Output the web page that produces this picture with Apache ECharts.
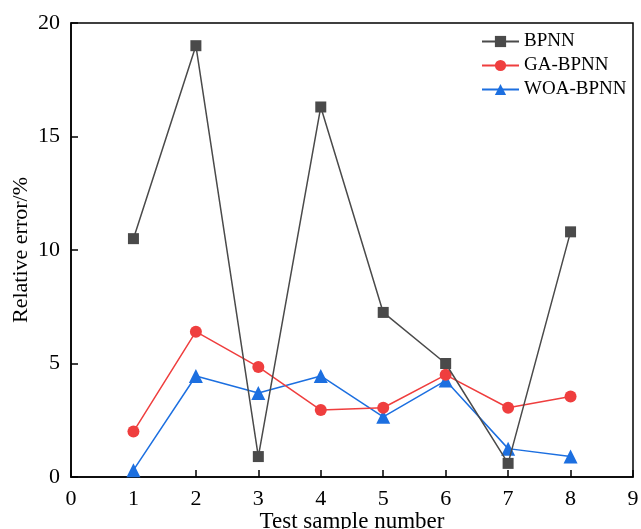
<!DOCTYPE html>
<html>
<head>
<meta charset="utf-8">
<script src="https://cdn.jsdelivr.net/npm/echarts@6/dist/echarts.min.js"></script>
<style>html,body{margin:0;padding:0;background:#fff;}#c{width:641px;height:529px;}</style>
</head>
<body>
<div id="c"></div>
<script>
const samples = [1, 2, 3, 4, 5, 6, 7, 8];
const bpnn = [10.5, 19.0, 0.9, 16.3, 7.25, 5.0, 0.6, 10.8];
const gaBpnn = [2.0, 6.4, 4.85, 2.95, 3.05, 4.5, 3.05, 3.55];
const woaBpnn = [0.3, 4.45, 3.7, 4.45, 2.65, 4.25, 1.25, 0.9];
const seriesNames = ['BPNN', 'GA-BPNN', 'WOA-BPNN'];
const colors = ['#4a4a4a', '#ef3e3e', '#1c6fe0'];
const symbols = ['rect', 'circle', 'triangle'];
const symbolSizes = [11, 12, 14];
const allData = [bpnn, gaBpnn, woaBpnn];
const font = 'Liberation Serif, Times New Roman, serif';

const chart = echarts.init(document.getElementById('c'), null, {renderer: 'canvas'});
chart.setOption({
  animation: false,
  backgroundColor: '#fff',
  textStyle: {fontFamily: font},
  grid: {left: 71, right: 8, top: 23, bottom: 52, show: true, borderColor: '#000', borderWidth: 1.5, containLabel: false, outerBoundsMode: 'none'},
  legend: {
    data: seriesNames.map((n) => ({name: n})),
    left: 476, top: 27, orient: 'vertical', align: 'left',
    itemWidth: 37, itemHeight: 14, itemGap: 5,
    textStyle: {fontFamily: font, fontSize: 19, color: '#000'}
  },
  xAxis: {
    type: 'value', min: 0, max: 9, interval: 1,
    name: 'Test sample number', nameLocation: 'middle', nameGap: 33, nameMoveOverlap: false,
    nameTextStyle: {fontFamily: font, fontSize: 23, color: '#000'},
    axisLine: {show: true, lineStyle: {color: '#000', width: 1.5}},
    axisTick: {show: true, inside: true, length: 7, lineStyle: {color: '#000', width: 1.5}},
    axisLabel: {fontFamily: font, fontSize: 22, color: '#000', margin: 11},
    splitLine: {show: false}
  },
  yAxis: {
    type: 'value', min: 0, max: 20, interval: 5,
    name: 'Relative error/%', nameLocation: 'middle', nameGap: 39, nameMoveOverlap: false,
    nameTextStyle: {fontFamily: font, fontSize: 22, color: '#000'},
    axisLine: {show: true, lineStyle: {color: '#000', width: 1.5}},
    axisTick: {show: true, inside: true, length: 7, lineStyle: {color: '#000', width: 1.5}},
    axisLabel: {fontFamily: font, fontSize: 22, color: '#000', margin: 11},
    splitLine: {show: false}
  },
  series: seriesNames.map((n, i) => ({
    name: n, type: 'line',
    data: samples.map((x, j) => [x, allData[i][j]]),
    symbol: symbols[i], symbolSize: symbolSizes[i], showAllSymbol: true,
    itemStyle: {color: colors[i]},
    lineStyle: {color: colors[i], width: 1.5},
    z: 3 - i
  }))
});
</script>
</body>
</html>
